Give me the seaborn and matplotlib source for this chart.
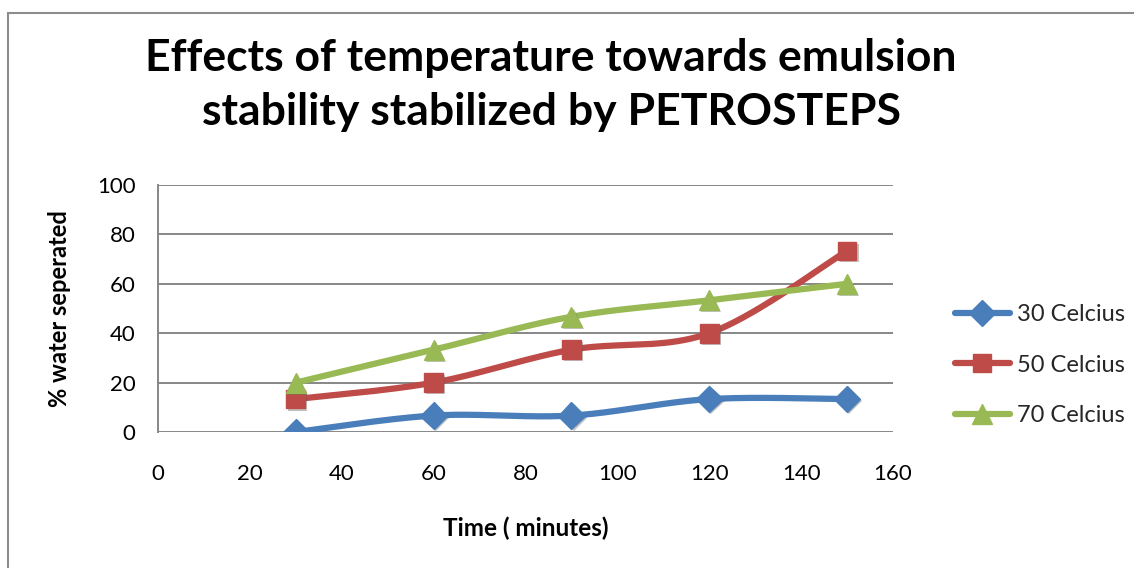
import numpy as np
import pandas as pd
import seaborn as sns
import matplotlib
matplotlib.use("Agg")
import matplotlib.pyplot as plt
from matplotlib.lines import Line2D
from matplotlib.patches import Rectangle
import matplotlib.patheffects as pe

# ---------------- data ----------------
time_min = [30, 60, 90, 120, 150]
c30 = [0.0, 6.67, 6.67, 13.33, 13.33]
c50 = [13.33, 20.0, 33.33, 40.0, 73.33]
c70 = [20.0, 33.33, 46.67, 53.33, 60.0]
series_names = ["30 Celcius", "50 Celcius", "70 Celcius"]
x_ticks = [0, 20, 40, 60, 80, 100, 120, 140, 160]
y_ticks = [0, 20, 40, 60, 80, 100]
title_text = "Effects of temperature towards emulsion\nstability stabilized by PETROSTEPS"
x_label = "Time ( minutes)"
y_label = "% water seperated"

colors = ["#4A7EBB", "#BE4B48", "#98B954"]
markers = ["D", "s", "^"]
msizes = [13.5, 13.5, 14.5]

sns.set_theme(style="white")
FONT = ["Lato", "DejaVu Sans"]
plt.rcParams["font.family"] = FONT


def smooth(xs, ys, n=40):
    """Catmull-Rom style smoothing through the data points (like Excel's smoothed line)."""
    xs = np.asarray(xs, float)
    ys = np.asarray(ys, float)
    P = np.column_stack([xs, ys])
    P = np.vstack([P[0], P, P[-1]])
    out = []
    for i in range(1, len(P) - 2):
        p0, p1, p2, p3 = P[i - 1], P[i], P[i + 1], P[i + 2]
        t = np.linspace(0, 1, n)[:, None]
        seg = 0.5 * ((2 * p1) + (-p0 + p2) * t + (2 * p0 - 5 * p1 + 4 * p2 - p3) * t ** 2
                     + (-p0 + 3 * p1 - 3 * p2 + p3) * t ** 3)
        out.append(seg if i == 1 else seg[1:])
    out = np.vstack(out)
    return out[:, 0], out[:, 1]


fig = plt.figure(figsize=(11.34, 5.68), dpi=100)
fig.patch.set_facecolor("white")
ax = fig.add_axes([0.1393, 0.2394, 0.6482, 0.4349])

# outer chart border
fig.add_artist(Rectangle((8 / 1134, -0.05), 1.2, 1 - 13 / 568 + 0.05,
                         transform=fig.transFigure, fill=False,
                         edgecolor="#8C8C8C", linewidth=1.5, clip_on=False))

shadow = [pe.SimplePatchShadow(offset=(1.5, -1.5), alpha=0.35, shadow_rgbFace="#555555"), pe.Normal()]

for name, ys, col, mk, ms in zip(series_names, [c30, c50, c70], colors, markers, msizes):
    sx, sy = smooth(time_min, ys)
    df_s = pd.DataFrame({"x": sx, "y": sy})
    sns.lineplot(data=df_s, x="x", y="y", ax=ax, color=col, linewidth=4.5,
                 sort=False, estimator=None, solid_capstyle="round", zorder=3)
    ax.plot(time_min, ys, linestyle="none", marker=mk, markersize=ms,
            markerfacecolor=col, markeredgecolor=col, zorder=4, path_effects=shadow)

ax.set_xlim(0, 160)
ax.set_ylim(0, 100)
ax.set_xticks(x_ticks)
ax.set_yticks(y_ticks)
ax.tick_params(axis="both", labelsize=16, length=0, colors="black")
ax.tick_params(axis="x", pad=23)
ax.tick_params(axis="y", pad=16)
ax.yaxis.grid(True, color="#878787", linewidth=1.4)
ax.xaxis.grid(False)
for s in ["top", "right", "bottom"]:
    ax.spines[s].set_visible(False)
ax.spines["left"].set_color("#878787")
ax.spines["left"].set_linewidth(1.4)
ax.set_xlabel(x_label, fontsize=17.5, fontweight="bold", color="black")
ax.set_ylabel(y_label, fontsize=17, fontweight="bold", color="black")
ax.xaxis.set_label_coords(0.50, -0.344)
ax.yaxis.set_label_coords(-0.118, 0.5)

fig.text(0.486, 0.850, title_text, ha="center", va="center", fontsize=32,
         fontweight="bold", linespacing=1.42, color="black")

handles = [Line2D([0], [0], color=c, marker=m, markersize=ms, linewidth=4.5,
                  solid_capstyle="round")
           for c, m, ms in zip(colors, markers, msizes)]
leg = fig.legend(handles, series_names, loc="center left", bbox_to_anchor=(0.823, 0.357),
                 frameon=False, fontsize=17, handlelength=2.33, handletextpad=0.3,
                 labelspacing=1.25)

fig.savefig("out.png", dpi=100, facecolor="white")
